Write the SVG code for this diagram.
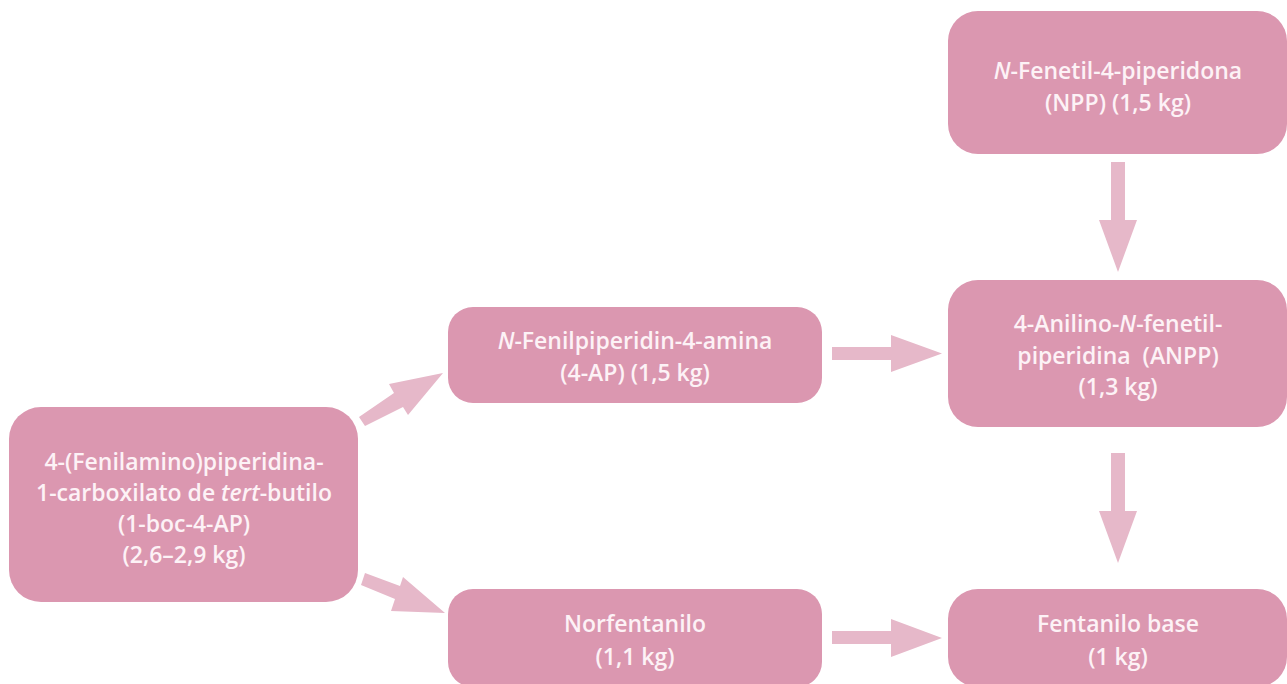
<svg xmlns="http://www.w3.org/2000/svg" width="1287" height="684" viewBox="0 0 1287 684">
<style>
.box{fill:#DB97B0}
.arr{fill:#E6B8C9}
.t{font-family:"Open Sans","Noto Sans","DejaVu Sans",sans-serif;font-size:23px;font-weight:600;fill:#FDF2F6;text-anchor:middle;white-space:pre}
.i{font-style:italic}
</style>
<rect width="1287" height="684" fill="#FFFFFF"/>
<g id="connectors">
<polygon class="arr" points="359,417 394,393 389,384 443,373 408,415 403,407 365,426"/>
<polygon class="arr" points="365,573 400,586 403,577 445,613 391,611 395,599 361,585"/>
<polygon class="arr" points="832,347 891,347 891,335 942,353.5 891,372 891,360 832,360"/>
<polygon class="arr" points="832,631 891,631 891,619 942,638 891,657 891,644 832,644"/>
<polygon class="arr" points="1111,162 1125,162 1125,220 1137,220 1118,272 1099,220 1111,220"/>
<polygon class="arr" points="1111,453 1125,453 1125,511 1137,511 1118,563 1099,511 1111,511"/>
</g>
<g id="node-npp">
<rect class="box" x="948" y="11" width="339" height="143" rx="30"/>
<text class="t" x="1118" y="79"><tspan class="i">N</tspan>-Fenetil-4-piperidona</text>
<text class="t" x="1118" y="111">(NPP) (1,5 kg)</text>
</g>
<g id="node-anpp">
<rect class="box" x="948" y="280" width="339" height="147" rx="30"/>
<text class="t" x="1118" y="332">4-Anilino-<tspan class="i">N</tspan>-fenetil-</text>
<text class="t" x="1118" y="364">piperidina  (ANPP)</text>
<text class="t" x="1118" y="395">(1,3 kg)</text>
</g>
<g id="node-4ap">
<rect class="box" x="448" y="307" width="374" height="96" rx="25"/>
<text class="t" x="635" y="349"><tspan class="i">N</tspan>-Fenilpiperidin-4-amina</text>
<text class="t" x="635" y="381">(4-AP) (1,5 kg)</text>
</g>
<g id="node-1boc">
<rect class="box" x="9" y="407" width="349" height="195" rx="32"/>
<text class="t" x="184" y="470">4-(Fenilamino)piperidina-</text>
<text class="t" x="184" y="501">1-carboxilato de <tspan class="i">tert</tspan>-butilo</text>
<text class="t" x="184" y="532">(1-boc-4-AP)</text>
<text class="t" x="184" y="563">(2,6–2,9 kg)</text>
</g>
<g id="node-norfentanilo">
<rect class="box" x="448" y="589" width="374" height="98" rx="25"/>
<text class="t" x="635" y="632">Norfentanilo</text>
<text class="t" x="635" y="665">(1,1 kg)</text>
</g>
<g id="node-fentanilo">
<rect class="box" x="948" y="589" width="339" height="98" rx="30"/>
<text class="t" x="1118" y="632">Fentanilo base</text>
<text class="t" x="1118" y="665">(1 kg)</text>
</g>
</svg>
